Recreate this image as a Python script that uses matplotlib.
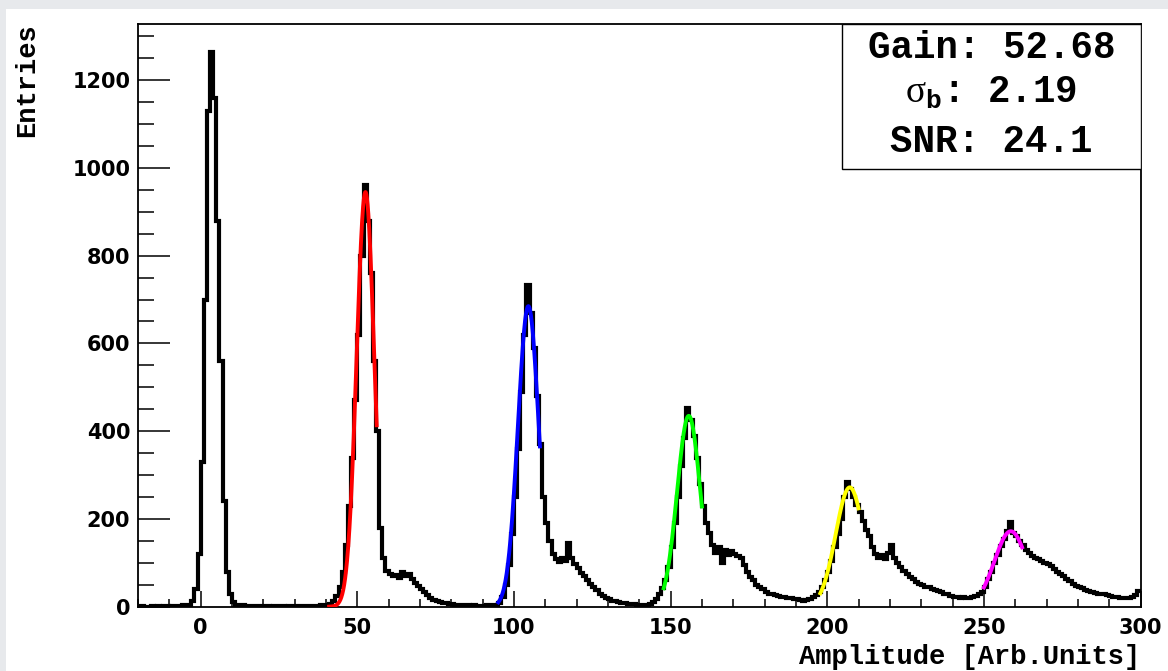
import numpy as np
import matplotlib
matplotlib.use("Agg")
import matplotlib.pyplot as plt
from matplotlib.patches import Rectangle
from matplotlib.ticker import MultipleLocator

# histogram: 1-unit bins from -20 to 300
bin_lo, bin_hi = -20, 300
counts = [
    0, 1, 0, 0, 1, 0, 1, 0, 1, 1,             # -20
    0, 1, 2, 1, 3, 4, 5, 12, 40, 120,          # -10
    330, 700, 1130, 1265, 1160, 880, 560, 240, 80, 28,   # 0
    10, 5, 3, 3, 2, 2, 1, 2, 1, 1,             # 10
    2, 1, 0, 1, 1, 2, 1, 0, 1, 1,              # 20
    2, 1, 1, 2, 1, 1, 2, 2, 3, 3,              # 30
    4, 6, 12, 25, 45, 80, 140, 230, 340, 470,  # 40
    620, 800, 961, 880, 760, 560, 400, 180, 110, 82,     # 50
    75, 70, 72, 66, 78, 70, 74, 62, 55, 48,    # 60
    40, 34, 26, 20, 16, 13, 10, 9, 8, 6,       # 70
    6, 5, 4, 4, 3, 3, 2, 3, 2, 2,              # 80
    2, 3, 3, 4, 5, 8, 22, 50, 95, 165,         # 90
    250, 360, 490, 620, 733, 670, 590, 480, 370, 250,    # 100
    190, 150, 120, 108, 102, 112, 105, 145, 110, 98,     # 110
    88, 76, 70, 60, 52, 44, 38, 30, 25, 20,    # 120
    17, 14, 12, 10, 9, 8, 7, 6, 6, 5,          # 130
    5, 4, 5, 6, 10, 18, 28, 42, 60, 90,        # 140
    135, 190, 250, 320, 385, 452, 425, 390, 340, 280,    # 150
    230, 190, 168, 140, 122, 135, 100, 130, 118, 128,    # 160
    120, 115, 110, 95, 80, 68, 60, 50, 45, 40,  # 170
    34, 30, 28, 26, 24, 22, 23, 20, 19, 18,    # 180
    17, 15, 14, 16, 18, 22, 26, 34, 45, 60,    # 190
    80, 105, 135, 165, 200, 250, 285, 268, 250, 232,     # 200
    215, 195, 175, 160, 135, 120, 112, 118, 108, 122,    # 210
    140, 112, 100, 90, 82, 75, 68, 62, 57, 52,  # 220
    50, 46, 44, 40, 38, 35, 33, 30, 28, 25,    # 230
    23, 22, 20, 21, 19, 20, 22, 25, 28, 33,    # 240
    45, 62, 80, 100, 118, 138, 155, 172, 194, 168,       # 250
    160, 150, 140, 130, 122, 115, 110, 108, 104, 100,    # 260
    98, 92, 86, 80, 75, 70, 62, 58, 52, 48,    # 270
    45, 42, 38, 36, 34, 32, 30, 30, 28, 26,    # 280
    24, 23, 22, 20, 19, 19, 20, 22, 26, 36,    # 290
]
assert len(counts) == bin_hi - bin_lo

# gaussian fits of the photo-electron peaks
fit_amp = [945, 685, 435, 272, 172]
fit_mean = [52.6, 104.6, 155.8, 207.2, 258.6]
fit_sigma = [2.8, 3.3, 3.7, 4.5, 5.2]
fit_lo = [41.0, 95.0, 147.8, 197.8, 250.0]
fit_hi = [56.2, 108.3, 160.0, 210.0, 262.2]
fit_colors = ["#ff0000", "#0000ff", "#00ff00", "#ffff00", "#ff00ff"]

stat_lines = ["Gain: 52.68", r"$\mathrm{\sigma}_{\mathbf{b}}$: 2.19", "SNR: 24.1"]

plt.rcParams["mathtext.fontset"] = "custom"
plt.rcParams["mathtext.rm"] = "Liberation Serif"
plt.rcParams["mathtext.bf"] = "Liberation Mono:bold"

W, H = 1168, 671
fig = plt.figure(figsize=(W / 100, H / 100), dpi=100)
fig.patch.set_facecolor("#e7e9ec")
fig.patches.append(Rectangle((6 / W, 0), 1, (H - 9) / H, transform=fig.transFigure,
                             facecolor="white", edgecolor="none", zorder=-10))

x0, x1, y0, y1 = 138, 1140.5, 606.7, 24
ax = fig.add_axes([x0 / W, (H - y0) / H, (x1 - x0) / W, (y0 - y1) / H])
ax.set_facecolor("white")

edges = np.arange(bin_lo, bin_hi + 1)
ax.stairs(counts, edges, color="black", lw=3.0, baseline=None, zorder=2)

for a, m, s, lo, hi, c in zip(fit_amp, fit_mean, fit_sigma, fit_lo, fit_hi, fit_colors):
    xs = np.linspace(lo, hi, 200)
    ax.plot(xs, a * np.exp(-0.5 * ((xs - m) / s) ** 2), color=c, lw=2.8, zorder=3)

ax.set_xlim(-20, 300)
ax.set_ylim(0, 1328)
ax.xaxis.set_major_locator(MultipleLocator(50))
ax.xaxis.set_minor_locator(MultipleLocator(10))
ax.yaxis.set_major_locator(MultipleLocator(200))
ax.yaxis.set_minor_locator(MultipleLocator(50))
ax.tick_params(which="both", direction="in", top=False, right=False, width=1.1)
ax.tick_params(axis="x", which="major", length=11.5, pad=8)
ax.tick_params(axis="x", which="minor", length=5.8)
ax.tick_params(axis="y", which="major", length=23, pad=5.5)
ax.tick_params(axis="y", which="minor", length=11.5)
for lab in ax.get_xticklabels() + ax.get_yticklabels():
    lab.set_fontfamily("DejaVu Sans")
    lab.set_fontweight("bold")
    lab.set_fontsize(15)
for sp in ax.spines.values():
    sp.set_linewidth(1.3)

mono = dict(family="Liberation Mono", weight="bold")
fig.text(27 / W, 1 - 23 / H, "Entries", rotation=90, ha="center", va="top",
         fontsize=19.5, **mono)
fig.text(x1 / W, (H - 664) / H, "Amplitude [Arb.Units]", ha="right", va="baseline",
         fontsize=19.5, **mono)

# stats box
bx = (842.3 - x0) / (x1 - x0)
by = (y0 - 169.3) / (y0 - y1)
ax.add_patch(Rectangle((bx, by), 1 - bx, 1 - by, transform=ax.transAxes,
                       facecolor="white", edgecolor="black", lw=1.0, zorder=5))
cx = (bx + 1) / 2
for txt, ypx in zip(stat_lines, [48, 93, 142]):
    ax.text(cx, (y0 - ypx) / (y0 - y1), txt, transform=ax.transAxes, ha="center",
            va="center", fontsize=27, zorder=6, **mono)

fig.savefig("out.png", dpi=100)
